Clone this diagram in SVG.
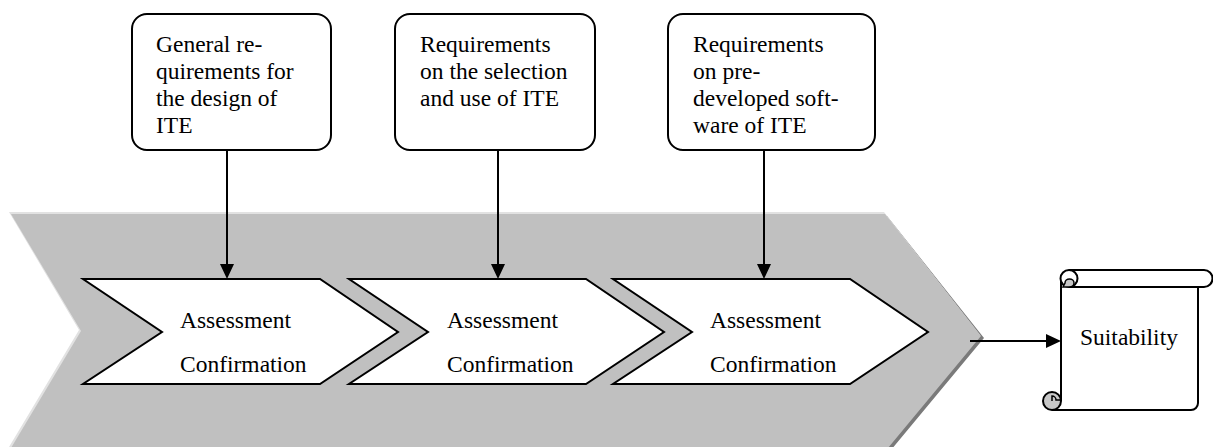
<svg xmlns="http://www.w3.org/2000/svg" width="1213" height="447" viewBox="0 0 1213 447">
<style>
.t{font-family:"Liberation Serif","Times New Roman",serif;font-size:23.5px;fill:#000}
.box{fill:#fff;stroke:#000;stroke-width:2}
.chev{fill:#fff;stroke:#000;stroke-width:2;stroke-linejoin:miter}
.ln{stroke:#000;stroke-width:2;fill:none}
.ah{fill:#000}
</style>
<rect width="1213" height="447" fill="#fff"/>
<g id="band">
<polygon points="12,216 887,216 984,338 891,450 12,450 84,333" fill="#7a7a7a"/>
<polygon points="9,212 884,212 980,335 887,447 9,447 79,330" fill="#e2e2e2"/>
<polygon points="11,214 885,214 981,336 888,448 11,448 81,331" fill="#c0c0c0"/>
</g>
<g id="req1">
<rect class="box" x="132" y="14" width="199" height="136" rx="15"/>
<text class="t" x="156" y="52">General re-</text>
<text class="t" x="156" y="79">quirements for</text>
<text class="t" x="156" y="106">the design of</text>
<text class="t" x="156" y="133">ITE</text>
</g>
<g id="req2">
<rect class="box" x="395" y="14" width="200" height="136" rx="15"/>
<text class="t" x="420" y="52">Requirements</text>
<text class="t" x="420" y="79">on the selection</text>
<text class="t" x="420" y="106">and use of ITE</text>
</g>
<g id="req3">
<rect class="box" x="668" y="14" width="207" height="136" rx="15"/>
<text class="t" x="693" y="52">Requirements</text>
<text class="t" x="693" y="79">on pre-</text>
<text class="t" x="693" y="106">developed soft-</text>
<text class="t" x="693" y="133">ware of ITE</text>
</g>
<g id="step1">
<polygon class="chev" points="83,279 320,279 398,332 320,384 83,384 162,332"/>
<text class="t" x="180" y="328">Assessment</text>
<text class="t" x="180" y="372">Confirmation</text>
</g>
<g id="step2">
<polygon class="chev" points="349,279 586,279 664,332 586,384 349,384 428,332"/>
<text class="t" x="447" y="328">Assessment</text>
<text class="t" x="447" y="372">Confirmation</text>
</g>
<g id="step3">
<polygon class="chev" points="613,279 850,279 928,332 850,384 613,384 692,332"/>
<text class="t" x="710" y="328">Assessment</text>
<text class="t" x="710" y="372">Confirmation</text>
</g>
<g id="suitability">
<path d="M1061,279 L1061,401 M1198,287 L1198,403 A7,7 0 0 1 1191,410 L1052,410" class="ln"/>
<path d="M1069,270 L1204,270 A8.5,8.5 0 0 1 1204,287 L1069,287" fill="#fff" stroke="#000" stroke-width="2"/>
<circle cx="1069" cy="278.5" r="8.5" fill="#fff" stroke="#000" stroke-width="2"/>
<path d="M1065,283 A4.5,4 0 0 1 1074,283 A5,4 0 0 1 1069,287 L1063,287 Z" fill="#c8c8c8" stroke="#000" stroke-width="1.5"/>
<circle cx="1052" cy="401" r="9" fill="#c8c8c8" stroke="#000" stroke-width="2"/>
<path d="M1052,401 L1052,396 A4,4 0 0 1 1056,400 L1061,400" fill="none" stroke="#000" stroke-width="1.5"/>
<text class="t" x="1080" y="345">Suitability</text>
</g>
<g id="connectors">
<line class="ln" x1="227" y1="150" x2="227" y2="265"/>
<polygon class="ah" points="220,264 234,264 227,279"/>
<line class="ln" x1="498" y1="150" x2="498" y2="265"/>
<polygon class="ah" points="491,264 505,264 498,279"/>
<line class="ln" x1="764" y1="150" x2="764" y2="265"/>
<polygon class="ah" points="757,264 771,264 764,279"/>
<line class="ln" x1="970" y1="341" x2="1047" y2="341"/>
<polygon class="ah" points="1046,334 1046,348 1061,341"/>
</g>
</svg>
